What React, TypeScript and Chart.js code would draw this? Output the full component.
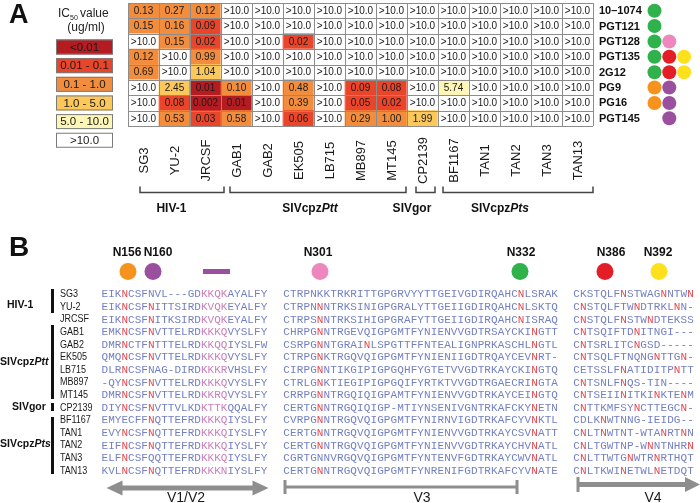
import React, { useEffect, useRef } from 'react';
import { Chart, registerables } from 'chart.js';

Chart.register(...registerables);

// ---------------- Panel A data ----------------
const VIRUSES = ['SG3', 'YU-2', 'JRCSF', 'GAB1', 'GAB2', 'EK505', 'LB715', 'MB897', 'MT145', 'CP2139', 'BF1167', 'TAN1', 'TAN2', 'TAN3', 'TAN13'];
const ANTIBODIES = ['10–1074', 'PGT121', 'PGT128', 'PGT135', '2G12', 'PG9', 'PG16', 'PGT145'];
const NR = '>10.0';
const IC50_10_1074 = ['0.13', '0.27', '0.12', NR, NR, NR, NR, NR, NR, NR, NR, NR, NR, NR, NR];
const IC50_PGT121 = ['0.15', '0.16', '0.09', NR, NR, NR, NR, NR, NR, NR, NR, NR, NR, NR, NR];
const IC50_PGT128 = [NR, '0.15', '0.02', NR, NR, '0.02', NR, NR, NR, NR, NR, NR, NR, NR, NR];
const IC50_PGT135 = ['0.12', NR, '0.99', NR, NR, NR, NR, NR, NR, NR, NR, NR, NR, NR, NR];
const IC50_2G12 = ['0.69', NR, '1.04', NR, NR, NR, NR, NR, NR, NR, NR, NR, NR, NR, NR];
const IC50_PG9 = [NR, '2.45', '0.01', '0.10', NR, '0.48', NR, '0.09', '0.08', NR, '5.74', NR, NR, NR, NR];
const IC50_PG16 = [NR, '0.08', '0.002', '0.01', NR, '0.39', NR, '0.05', '0.02', NR, NR, NR, NR, NR, NR];
const IC50_PGT145 = [NR, '0.53', '0.03', '0.58', NR, '0.06', NR, '0.29', '1.00', '1.99', NR, NR, NR, NR, NR];
const IC50_ROWS = [IC50_10_1074, IC50_PGT121, IC50_PGT128, IC50_PGT135, IC50_2G12, IC50_PG9, IC50_PG16, IC50_PGT145];

const LEGEND_BINS = ['<0.01', '0.01 - 0.1', '0.1 - 1.0', '1.0 - 5.0', '5.0 - 10.0', '>10.0'];
const BIN_COLORS = ['#b41c22', '#e8452b', '#f28d3d', '#fcc75b', '#fdf6b6', '#ffffff'];

// epitope dots next to each antibody ('' = empty slot)
const EPITOPE_DOTS = [['green'], ['green'], ['green', 'pink'], ['green', 'red', 'yellow'], ['green', 'red', 'yellow'], ['orange', 'purple'], ['orange', 'purple'], ['', 'purple']];
const DOT_COLORS: Record<string, string> = { green: '#2fb24b', pink: '#ee87bd', red: '#e31e27', yellow: '#fee01c', orange: '#f6921e', purple: '#9b4f9f' };

const VIRUS_GROUP_LABELS = ['HIV-1', 'SIVcpz|Ptt', 'SIVgor', 'SIVcpz|Pts'];
const VIRUS_GROUP_FIRST = [0, 3, 9, 10];
const VIRUS_GROUP_LAST = [2, 8, 9, 14];

// ---------------- Panel B data ----------------
const STRAINS = ['SG3', 'YU-2', 'JRCSF', 'GAB1', 'GAB2', 'EK505', 'LB715', 'MB897', 'MT145', 'CP2139', 'BF1167', 'TAN1', 'TAN2', 'TAN3', 'TAN13'];
// lowercase n = N-glycosylation site highlighted in red
const SEQ_V1V2 = [
  'EIKnCSFNVL---GDKKQKAYALFY',
  'EIKnCSFnITTSIRDKVQKEYALFY',
  'EIKnCSFnITKSIRDKVQKEYALFY',
  'EMKnCSFnVTTELRDKKKQVYSLFY',
  'DMRnCTFnTTTELRDKKQQIYSLFW',
  'QMQnCSFnVTTELRDKKKQVYSLFY',
  'DLRnCSFNAG-DIRDKKKRVHSLFY',
  '-QYnCSFnVTTELRDKKKQVYSLFY',
  'DMRnCSFnVTTELRDKKRQVYSLFY',
  'DIYnCSFnVTTVLKDKTTKQQALFY',
  'EMYECFFnQTTEFRDKKKQIYSLFY',
  'EVYnCSFnQTTEFRDKKKQIYSLFY',
  'EIFnCSFnQTTEFRDKKKQIYSLFY',
  'ELFnCSFQQTTEFRDKKKQIYSLFY',
  'KVLnCSFnQTTEFRDKKKNIYSLFY',
];
const SEQ_V3 = [
  'CTRPNKKTRKRITTGPGRVYYTTGEIVGDIRQAHCnLSRAK',
  'CTRPNnNTRKSINIGPGRALYTTGEIIGDIRQAHCnLSKTQ',
  'CTRPSnNTRKSIHIGPGRAFYTTGEIIGDIRQAHCnISRAQ',
  'CHRPGnNTRGEVQIGPGMTFYNIENVVGDTRSAYCKInGTT',
  'CSRPGnNTGRAInLSPGTTFFNTEALIGNPRKASCHLnGTL',
  'CTRPGnKTRGQVQIGPGMTFYNIENIIGDTRQAYCEVnRT-',
  'CIRPGnNTIKGIPIGPGQHFYGTETVVGDTRKAYCKInGTQ',
  'CTRLGnKTIEGIPIGPGQIFYRTKTVVGDTRGAECRInGTA',
  'CRRPGnNTRGQIQIGPAMTFYNIENVVGDTRKAYCEInGTQ',
  'CERTGnNTRGQIQIGP-MTIYNSENIVGNTRKAFCKYnETN',
  'CVRPGnNTRGQVQIGPGMTFYNIRNVIGDTRKAFCYVnKTL',
  'CERTGnNTRGQVQIGPGMTFYNIENVVGDTRKAYCSVnATT',
  'CERTGnNTRGQVQIGPGMTFYNIENVVGDTRKAYCHVnATL',
  'CGRTGNNVRGQVQIGPGMTFYNTENVFGDTRKAYCWVnATL',
  'CERTGnNTRGQVQIGPGMTFYNRENIFGDTRKAFCYVnATE',
];
const SEQ_V4 = [
  'CKSTQLFnSTWAGnNTWn',
  'CnSTQLFTWnDTRKLnN-',
  'CnSTQLFnSTWnDTEKSS',
  'CnTSQIFTDnITNGI---',
  'CnTSRLITCnGSD-----',
  'CnTSQLFTNQNGnTTGn-',
  'CETSSLFnATIDITPnTT',
  'CnTSNLFnQS-TIN----',
  'CnTSEIInITKInKTEnM',
  'CnTTKMFSYnCTTEGCn-',
  'CDLKnWTNNG-IEIDG--',
  'CnLTnWTNT-WTAnRTnN',
  'CnLTGWTNP-WnNTNHRn',
  'CnLTTWTGnWTRnRTHQT',
  'CnLTKWInETWLnETDQT',
];
const STRAIN_GROUP_LABELS = ['HIV-1', 'SIVcpz|Ptt', 'SIVgor', 'SIVcpz|Pts'];
const GLYCAN_LABELS = ['N156', 'N160', 'N301', 'N332', 'N386', 'N392'];
const GLYCAN_DOTS = ['orange', 'purple', 'pink', 'green', 'red', 'yellow'];
const REGION_LABELS = ['V1/V2', 'V3', 'V4'];

// ---------------- helpers ----------------
const SANS = '"Liberation Sans", Arial, sans-serif';
const MONO = '"Liberation Mono", "Courier New", monospace';

function binOf(s: string): number {
  if (s.startsWith('>')) return 5;
  const v = parseFloat(s);
  if (v <= 0.01) return 0;
  if (v < 0.1) return 1;
  if (v <= 1.0) return 2;
  if (v <= 5.0) return 3;
  if (v <= 10.0) return 4;
  return 5;
}

function txt(ctx: CanvasRenderingContext2D, s: string, x: number, y: number, o: any = {}) {
  ctx.save();
  ctx.translate(x, y);
  if (o.rot) ctx.rotate(o.rot);
  if (o.sx) ctx.scale(o.sx, 1);
  ctx.font = o.font || `12px ${SANS}`;
  ctx.fillStyle = o.color || '#111';
  ctx.textAlign = o.align || 'left';
  ctx.textBaseline = o.baseline || 'middle';
  ctx.fillText(s, 0, 0);
  ctx.restore();
}

// "SIVcpz|Ptt" -> regular bold + italic bold part
function richLabel(ctx: CanvasRenderingContext2D, label: string, x: number, y: number, size: number, align: 'left' | 'center') {
  const [a, b = ''] = label.split('|');
  const fa = `bold ${size}px ${SANS}`;
  const fb = `italic bold ${size}px ${SANS}`;
  ctx.save();
  ctx.font = fa;
  const wa = ctx.measureText(a).width;
  ctx.font = fb;
  const wb = ctx.measureText(b).width;
  ctx.restore();
  const x0 = align === 'center' ? x - (wa + wb) / 2 : x;
  txt(ctx, a, x0, y, { font: fa, color: '#111' });
  if (b) txt(ctx, b, x0 + wa, y, { font: fb, color: '#111' });
}

function dot(ctx: CanvasRenderingContext2D, x: number, y: number, r: number, color: string) {
  ctx.beginPath();
  ctx.arc(x, y, r, 0, Math.PI * 2);
  ctx.fillStyle = color;
  ctx.fill();
}

function head(ctx: CanvasRenderingContext2D, tipX: number, y: number, dir: number, len: number, half: number) {
  ctx.beginPath();
  ctx.moveTo(tipX, y);
  ctx.lineTo(tipX - dir * len, y - half);
  ctx.lineTo(tipX - dir * len, y + half);
  ctx.closePath();
  ctx.fill();
}

function line(ctx: CanvasRenderingContext2D, x1: number, y1: number, x2: number, y2: number, w: number, c: string) {
  ctx.beginPath();
  ctx.moveTo(x1, y1);
  ctx.lineTo(x2, y2);
  ctx.lineWidth = w;
  ctx.strokeStyle = c;
  ctx.stroke();
}

const figurePlugin = {
  id: 'figure',
  afterDatasetsDraw(chart: any) {
    const ctx: CanvasRenderingContext2D = chart.ctx;
    const xs = chart.scales.x;
    const ys = chart.scales.y;
    const cw = xs.width / VIRUSES.length;
    // grid
    ctx.save();
    for (let i = 0; i <= VIRUSES.length; i++) {
      const x = Math.round(xs.left + i * cw) + 0.5;
      line(ctx, x, ys.getPixelForValue(0), x, ys.getPixelForValue(ANTIBODIES.length), 1, '#8c8c8c');
    }
    for (let r = 0; r <= ANTIBODIES.length; r++) {
      const y = Math.round(ys.getPixelForValue(r)) + 0.5;
      line(ctx, xs.left, y, xs.right, y, 1, '#8c8c8c');
    }
    // cell text
    const meta = chart.getDatasetMeta(0);
    meta.data.forEach((el: any, i: number) => {
      const raw = chart.data.datasets[0].data[i];
      txt(ctx, raw.t, el.x, (el.y + el.base) / 2 + 0.5, { font: `10px ${SANS}`, color: '#1a1a1a', align: 'center' });
    });
    ctx.restore();
  },
  afterDraw(chart: any) {
    const ctx: CanvasRenderingContext2D = chart.ctx;
    const xs = chart.scales.x;
    const ys = chart.scales.y;
    const cw = xs.width / VIRUSES.length;
    const edge = (i: number) => xs.left + i * cw;
    ctx.save();

    // panel letters
    txt(ctx, 'A', 9, 16, { font: `bold 27px ${SANS}`, color: '#111' });
    txt(ctx, 'B', 9, 248, { font: `bold 28px ${SANS}`, color: '#111' });

    // legend
    ctx.font = `12px ${SANS}`;
    const wIC = ctx.measureText('IC').width;
    txt(ctx, 'IC', 58, 14, { font: `12px ${SANS}`, color: '#222' });
    txt(ctx, '50', 58 + wIC, 18, { font: `7px ${SANS}`, color: '#222' });
    txt(ctx, 'value', 80, 14, { font: `12px ${SANS}`, color: '#222' });
    txt(ctx, '(ug/ml)', 86, 28, { font: `12px ${SANS}`, color: '#222', align: 'center' });
    LEGEND_BINS.forEach((lab, i) => {
      const y = 39.5 + i * 18.65;
      ctx.fillStyle = BIN_COLORS[i];
      ctx.fillRect(56, y, 57, 15);
      ctx.strokeStyle = '#7a7a7a';
      ctx.lineWidth = 1;
      ctx.strokeRect(56.5, y + 0.5, 56, 14);
      txt(ctx, lab, 84.5, y + 8, { font: `11.5px ${SANS}`, color: '#1a1a1a', align: 'center' });
    });

    // antibody names and epitope dots
    ANTIBODIES.forEach((ab, r) => {
      const y = ys.getPixelForValue(r + 0.5);
      txt(ctx, ab, xs.right + 6, y + 0.5, { font: `bold 11px ${SANS}`, color: '#111' });
      EPITOPE_DOTS[r].forEach((c, k) => {
        if (c) dot(ctx, 654.5 + k * 14.8, y, 7, DOT_COLORS[c]);
      });
    });

    // virus labels (rotated)
    VIRUSES.forEach((v, i) => {
      txt(ctx, v, xs.getPixelForValue(i) + 1, 160.5, { font: `13px ${SANS}`, color: '#1a1a1a', align: 'center', rot: -Math.PI / 2 });
    });

    // group brackets
    const bStart = [12, 9, 9, 5];
    const bEnd = [3, -1, -3, 0];
    const labCol = [1.4, 5.87, 9.16, 12.0];
    VIRUS_GROUP_LABELS.forEach((g, k) => {
      const x1 = edge(VIRUS_GROUP_FIRST[k]) + bStart[k];
      const x2 = edge(VIRUS_GROUP_LAST[k] + 1) + bEnd[k];
      ctx.beginPath();
      ctx.moveTo(x1, 186.5);
      ctx.lineTo(x1, 192.5);
      ctx.lineTo(x2, 192.5);
      ctx.lineTo(x2, 186.5);
      ctx.lineWidth = 1.5;
      ctx.strokeStyle = '#444';
      ctx.stroke();
      richLabel(ctx, g, xs.left + labCol[k] * cw, 208.5, 12, 'center');
    });

    // ---------------- Panel B ----------------
    const gx = [127, 158, 318, 521, 611, 658];
    const dx = [128, 153, 320, 520, 605, 659];
    GLYCAN_LABELS.forEach((g, k) => {
      txt(ctx, g, gx[k], 253, { font: `bold 12px ${SANS}`, color: '#111', align: 'center' });
      dot(ctx, dx[k], 271.5, 8.5, DOT_COLORS[GLYCAN_DOTS[k]]);
    });
    // purple bar (V2 apex strand)
    ctx.fillStyle = DOT_COLORS.purple;
    ctx.fillRect(203, 269, 27, 5);

    const Y0 = 294;
    const DY = 12.6;
    const rowY = (r: number) => Y0 + r * DY;
    STRAINS.forEach((s, r) => {
      txt(ctx, s, 60, rowY(r) + 0.5, { font: `10px ${SANS}`, color: '#1a1a1a', sx: 0.9 });
    });
    // group bars + labels
    const barTop = [289, 325, 403, 417];
    const barBot = [313, 399, 411, 474];
    const labY = [305, 362, 407.5, 444];
    const labX = [7, 0, 12, 0];
    STRAIN_GROUP_LABELS.forEach((g, k) => {
      ctx.fillStyle = '#111';
      ctx.fillRect(51, barTop[k], 3, barBot[k] - barTop[k]);
      richLabel(ctx, g, labX[k], labY[k], 10.5, 'left');
    });

    const BLUE = '#7480c4';
    const RED = '#e4484d';
    const PINK = '#c97fb8';
    const drawBlock = (seqs: string[], x0: number, pitch: number, pinkFrom: number, pinkTo: number) => {
      seqs.forEach((s, r) => {
        for (let i = 0; i < s.length; i++) {
          const ch = s[i];
          const red = ch === 'n';
          const pink = i >= pinkFrom && i <= pinkTo;
          txt(ctx, ch.toUpperCase(), x0 + (i + 0.5) * pitch, rowY(r) + 0.5, {
            font: `11px ${MONO}`,
            color: red ? RED : pink ? PINK : BLUE,
            align: 'center',
          });
        }
      });
    };
    drawBlock(SEQ_V1V2, 101.5, 6.63, 15, 18);
    drawBlock(SEQ_V3, 283.3, 6.7, -1, -1);
    drawBlock(SEQ_V4, 573.3, 6.7, -1, -1);

    // region markers
    const GRAY = '#8e8e8e';
    ctx.fillStyle = GRAY;
    line(ctx, 120, 488, 255, 488, 5, GRAY);
    head(ctx, 106.5, 488, -1, 16, 7.5);
    head(ctx, 268.5, 488, 1, 16, 7.5);
    line(ctx, 285, 487, 517, 487, 3, GRAY);
    line(ctx, 285, 480, 285, 494, 3, GRAY);
    line(ctx, 517, 480, 517, 494, 3, GRAY);
    line(ctx, 578, 477, 578, 492, 3, GRAY);
    line(ctx, 578, 484.5, 688, 484.5, 5, GRAY);
    head(ctx, 700, 484.5, 1, 15, 7.5);
    const rx = [186, 422, 653];
    REGION_LABELS.forEach((l, k) => {
      txt(ctx, l, rx[k], 498.5, { font: `14px ${SANS}`, color: '#1a1a1a', align: 'center' });
    });

    ctx.restore();
  },
};

export default function App() {
  const ref = useRef<HTMLCanvasElement>(null);
  useEffect(() => {
    if (!ref.current) return;
    const cells: any[] = [];
    IC50_ROWS.forEach((row, r) => {
      row.forEach((t, c) => {
        cells.push({ x: VIRUSES[c], y: [r, r + 1], t });
      });
    });
    const chart = new Chart(ref.current, {
      type: 'bar',
      data: {
        labels: VIRUSES,
        datasets: [
          {
            data: cells,
            backgroundColor: (c: any) => BIN_COLORS[binOf(c.raw ? c.raw.t : NR)],
            borderWidth: 0,
            borderSkipped: false,
            categoryPercentage: 1,
            barPercentage: 1,
          } as any,
        ],
      },
      options: {
        responsive: false,
        animation: false,
        events: [],
        devicePixelRatio: 1,
        layout: { padding: { left: 128, right: 107, top: 3, bottom: 377 } },
        plugins: { legend: { display: false }, tooltip: { enabled: false }, title: { display: false } },
        scales: {
          x: { display: false },
          y: { display: false, min: 0, max: ANTIBODIES.length, reverse: true },
        },
      } as any,
      plugins: [figurePlugin],
    });
    return () => chart.destroy();
  }, []);
  return (
    <div style={{ position: 'absolute', left: 0, top: 0, width: 700, height: 503, background: '#fff' }}>
      <canvas ref={ref} width={700} height={503} />
    </div>
  );
}
